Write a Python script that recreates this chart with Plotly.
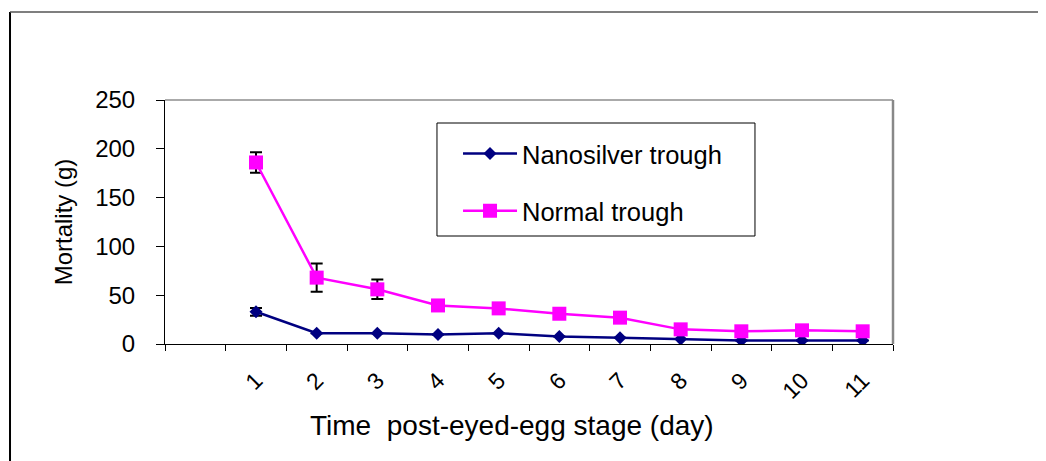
import plotly.graph_objects as go

days = [1, 2, 3, 4, 5, 6, 7, 8, 9, 10, 11]
tick_labels = ["1", "2", "3", "4", "5", "6", "7", "8", "9", "10", "11"]
boundaries = [-0.5, 0.5, 1.5, 2.5, 3.5, 4.5, 5.5, 6.5, 7.5, 8.5, 9.5, 10.5, 11.5]

nanosilver = [33, 11, 11, 9.8, 11, 7.7, 6.4, 5, 3.6, 3.6, 3.6]
nanosilver_err = [4, None, None, None, None, None, None, None, None, None, None]
normal = [186, 68, 56, 39.5, 36.5, 31, 27, 15, 13, 14, 13]
normal_err = [10.5, 14.5, 10, None, None, None, None, None, None, None, None]

x_title = "Time\u00a0 post-eyed-egg stage (day)"
y_title = "Mortality (g)"

FONT = "Liberation Sans, Arial, sans-serif"

fig = go.Figure()
fig.add_trace(go.Scatter(
    x=days, y=nanosilver, name="Nanosilver trough", mode="lines+markers",
    legendgroup="a",
    line=dict(color="#000080", width=2.5),
    marker=dict(symbol="diamond", size=10, color="#000080"),
    error_y=dict(type="data", array=nanosilver_err, visible=True,
                 color="black", thickness=2, width=6),
))
fig.add_trace(go.Scatter(
    x=days, y=normal, name="Normal trough", mode="lines+markers",
    legendgroup="b",
    line=dict(color="#FF00FF", width=2.5),
    marker=dict(symbol="square", size=14, color="#FF00FF"),
    error_y=dict(type="data", array=normal_err, visible=True,
                 color="black", thickness=2, width=6),
))

fig.update_layout(
    width=1038, height=453,
    margin=dict(l=157, r=153, t=92, b=117),
    paper_bgcolor="white", plot_bgcolor="white",
    font=dict(family=FONT, color="black", size=22),
    showlegend=True,
    legend=dict(
        x=0.4025, y=0.875, xanchor="left", yanchor="top",
        bgcolor="rgba(0,0,0,0)", borderwidth=0,
        font=dict(size=25.5, family=FONT),
        itemwidth=54, tracegroupgap=21, traceorder="grouped",
    ),
    xaxis=dict(
        range=[-0.5, 11.5], tickmode="array", tickvals=days, ticktext=tick_labels,
        ticks="", tickangle=-45, ticklabelstandoff=13,
        tickfont=dict(size=23, family=FONT),
        showgrid=False, zeroline=False,
        showline=True, linecolor="black", linewidth=1,
        minor=dict(tickmode="array", tickvals=boundaries, ticks="outside",
                   ticklen=6, tickcolor="black", tickwidth=1, showgrid=False),
    ),
    yaxis=dict(
        range=[0, 250], tickvals=[0, 50, 100, 150, 200, 250],
        ticks="outside", ticklen=8, tickcolor="black", ticklabelstandoff=16,
        tickfont=dict(size=24, family=FONT),
        showgrid=False, zeroline=False,
        showline=True, linecolor="black", linewidth=1,
        title=dict(text=y_title, font=dict(size=24, family=FONT), standoff=15),
    ),
    annotations=[
        dict(text=x_title, xref="paper", yref="paper", x=0.4766, y=-0.335,
             xanchor="center", yanchor="middle", showarrow=False,
             font=dict(size=28, family=FONT, color="black")),
    ],
    shapes=[
        # outer frame (left and top)
        dict(type="line", xref="paper", yref="paper", x0=-0.2129, x1=-0.2129, y0=-0.5, y1=1.3607,
             line=dict(color="black", width=2)),
        dict(type="line", xref="paper", yref="paper", x0=-0.2129, x1=1.22, y0=1.3607, y1=1.3607,
             line=dict(color="#555555", width=1.5)),
        # plot area border top and right
        dict(type="line", xref="paper", yref="paper", x0=0, x1=1, y0=1, y1=1,
             line=dict(color="#AAAAAA", width=2)),
        dict(type="line", xref="paper", yref="paper", x0=1, x1=1, y0=0, y1=1,
             line=dict(color="#888888", width=2.5)),
        # legend box
        dict(type="rect", xref="paper", yref="paper", x0=0.3736, x1=0.8104, y0=0.4426, y1=0.9057,
             line=dict(color="black", width=1), fillcolor="rgba(0,0,0,0)", layer="below"),
    ],
)

fig.write_html("out.html")
